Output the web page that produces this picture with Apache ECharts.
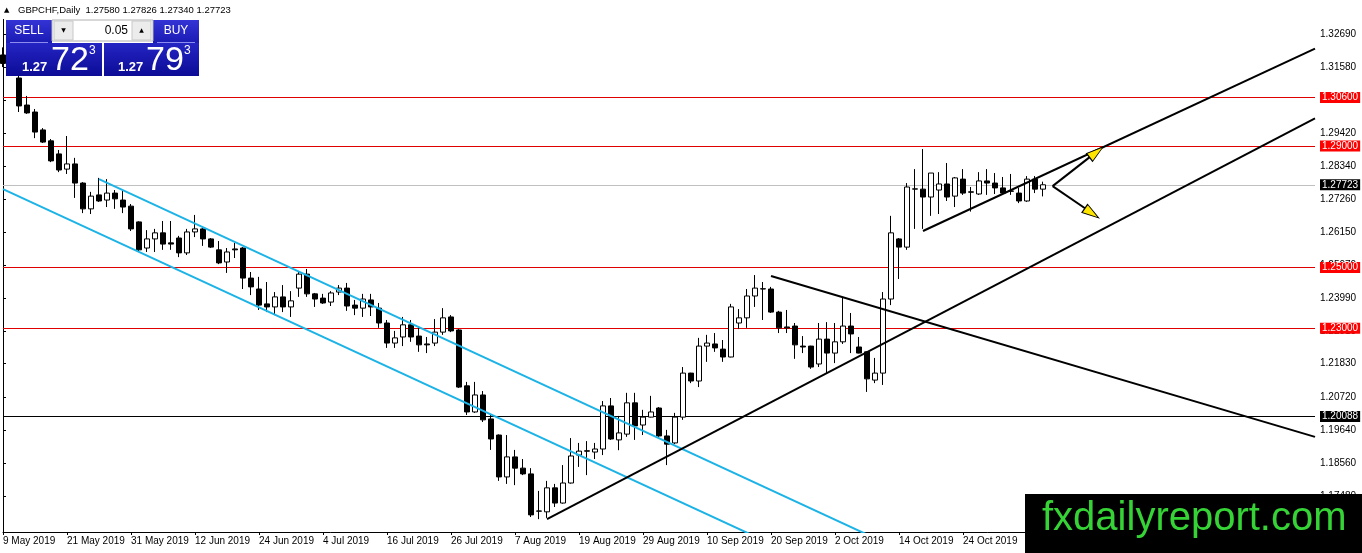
<!DOCTYPE html>
<html><head><meta charset="utf-8">
<script src="https://cdn.jsdelivr.net/npm/echarts@6/dist/echarts.min.js"></script>
<style>html,body{margin:0;padding:0;background:#fff}#c{width:1362px;height:553px}</style>
</head><body><div id="c"></div>
<script>
// ---- data (GBPCHF Daily) ----
const firstDay = [2019, 4, 9];   // 9 May 2019, weekday bars
const barCount = 131;
const opens = [1.3200,1.3170,1.3124,1.3035,1.3012,1.2953,1.2917,1.2874,1.2824,1.2841,
1.2778,1.2693,1.2739,1.2722,1.2745,1.2722,1.2702,1.2650,1.2564,1.2594,
1.2614,1.2581,1.2597,1.2548,1.2617,1.2627,1.2594,1.2558,1.2518,1.2561,
1.2564,1.2465,1.2429,1.2380,1.2370,1.2403,1.2370,1.2432,1.2478,1.2413,
1.2399,1.2386,1.2419,1.2432,1.2376,1.2366,1.2393,1.2366,1.2317,1.2251,
1.2271,1.2311,1.2274,1.2248,1.2251,1.2287,1.2337,1.2294,1.2110,1.2024,
1.2080,1.2001,1.1948,1.1810,1.1876,1.1839,1.1820,1.1697,1.1695,1.1774,
1.1724,1.1790,1.1882,1.1896,1.1892,1.1902,1.2044,1.1932,1.1951,1.2054,
1.1981,1.2007,1.2037,1.1945,1.1922,1.2007,1.2152,1.2126,1.2241,1.2248,
1.2231,1.2205,1.2317,1.2334,1.2406,1.2429,1.2429,1.2353,1.2304,1.2307,
1.2241,1.2241,1.2182,1.2264,1.2218,1.2255,1.2307,1.2238,1.2222,1.2129,
1.2152,1.2396,1.2594,1.2567,1.2758,1.2758,1.2732,1.2755,1.2775,1.2735,
1.2791,1.2749,1.2742,1.2785,1.2778,1.2762,1.2752,1.2745,1.2719,1.2791,
1.27580];
const highs = [1.3225,1.3190,1.3144,1.3065,1.3022,1.2959,1.2923,1.2887,1.2933,1.2861,
1.2781,1.2749,1.2795,1.2791,1.2755,1.2752,1.2709,1.2652,1.2623,1.2627,
1.2653,1.2653,1.2604,1.2627,1.2673,1.2633,1.2597,1.2587,1.2564,1.2581,
1.2567,1.2485,1.2469,1.2452,1.2419,1.2442,1.2422,1.2485,1.2495,1.2416,
1.2413,1.2422,1.2442,1.2449,1.2393,1.2413,1.2413,1.2383,1.2327,1.2291,
1.2337,1.2327,1.2301,1.2271,1.2330,1.2366,1.2343,1.2297,1.2123,1.2123,
1.2093,1.2017,1.1950,1.1948,1.1899,1.1869,1.1839,1.1764,1.1797,1.1787,
1.1849,1.1938,1.1922,1.1928,1.1922,1.2060,1.2070,1.2011,1.2087,1.2087,
1.2031,1.2077,1.2040,1.1965,1.2021,1.2172,1.2153,1.2268,1.2278,1.2284,
1.2261,1.2380,1.2363,1.2429,1.2475,1.2452,1.2436,1.2357,1.2360,1.2317,
1.2274,1.2242,1.2317,1.2320,1.2317,1.2403,1.2350,1.2271,1.2223,1.2202,
1.2419,1.2670,1.2597,1.2778,1.2824,1.2890,1.2811,1.2814,1.2844,1.2798,
1.2824,1.2765,1.2814,1.2824,1.2811,1.2798,1.2808,1.2762,1.2801,1.2801,
1.27826];
const lows = [1.3160,1.3138,1.3012,1.3006,1.2926,1.2910,1.2847,1.2814,1.2808,1.2729,
1.2679,1.2676,1.2716,1.2699,1.2693,1.2679,1.2620,1.2551,1.2551,1.2551,
1.2558,1.2558,1.2534,1.2541,1.2600,1.2571,1.2564,1.2511,1.2482,1.2531,
1.2429,1.2409,1.2360,1.2353,1.2343,1.2353,1.2337,1.2403,1.2403,1.2370,
1.2380,1.2373,1.2409,1.2357,1.2343,1.2337,1.2340,1.2301,1.2235,1.2235,
1.2241,1.2255,1.2222,1.2218,1.2241,1.2278,1.2287,1.2103,1.2014,1.2021,
1.1991,1.1899,1.1797,1.1787,1.1783,1.1816,1.1678,1.1671,1.1675,1.1711,
1.1722,1.1788,1.1843,1.1816,1.1869,1.1882,1.1932,1.1898,1.1942,1.1932,
1.1948,1.2006,1.1942,1.1849,1.1918,1.1998,1.2119,1.2106,1.2189,1.2222,
1.2189,1.2204,1.2297,1.2301,1.2370,1.2327,1.2350,1.2284,1.2284,1.2199,
1.2218,1.2166,1.2172,1.2152,1.2185,1.2248,1.2218,1.2217,1.2090,1.2119,
1.2113,1.2376,1.2462,1.2558,1.2627,1.2627,1.2670,1.2676,1.2719,1.2699,
1.2739,1.2684,1.2739,1.2739,1.2742,1.2745,1.2739,1.2712,1.2716,1.2745,
1.27340];
const closes = [1.3172,1.3150,1.3032,1.3009,1.2946,1.2913,1.2851,1.2821,1.2841,1.2778,
1.2693,1.2735,1.2719,1.2745,1.2726,1.2699,1.2627,1.2558,1.2594,1.2614,
1.2577,1.2577,1.2548,1.2617,1.2627,1.2594,1.2567,1.2515,1.2551,1.2558,
1.2465,1.2436,1.2376,1.2370,1.2403,1.2370,1.2390,1.2478,1.2413,1.2396,
1.2383,1.2416,1.2432,1.2373,1.2366,1.2396,1.2370,1.2317,1.2251,1.2268,
1.2311,1.2271,1.2245,1.2245,1.2287,1.2334,1.2291,1.2106,1.2024,1.2080,
1.1998,1.1935,1.1810,1.1876,1.1839,1.1820,1.1685,1.1698,1.1774,1.1724,
1.1790,1.1879,1.1895,1.1895,1.1902,1.2044,1.1935,1.1955,1.2054,1.1978,
1.2007,1.2024,1.1945,1.1918,1.2007,1.2152,1.2126,1.2241,1.2251,1.2235,
1.2205,1.2370,1.2334,1.2406,1.2432,1.2430,1.2353,1.2301,1.2301,1.2245,
1.2238,1.2172,1.2264,1.2218,1.2255,1.2307,1.2281,1.2218,1.2133,1.2152,
1.2396,1.2614,1.2567,1.2765,1.2759,1.2732,1.2811,1.2775,1.2732,1.2795,
1.2745,1.2748,1.2785,1.2778,1.2762,1.2745,1.2751,1.2719,1.2791,1.2758,
1.27723];

const priceTicks = [1.32690,1.31580,1.30500,1.29420,1.28340,1.27260,1.26150,1.25070,
  1.23990,1.22910,1.21830,1.20720,1.19640,1.18560,1.17480];
const redLevels = [1.30600, 1.29000, 1.25000, 1.23000];
const blackLevel = 1.20088;
const lastPrice = 1.27723;

// trendlines as [barIndex, price] anchor pairs
const cyanUpper = [[12, 1.2791], [110, 1.1596]];
const cyanLower = [[0, 1.2758], [95, 1.1602]];
const blackRise = [[68, 1.1671], [164, 1.2991]];
const blackTop = [[115, 1.2620], [164, 1.3221]];
const blackFall = [[96, 1.2472], [164, 1.1942]];
const arrowUp = [[131.2, 1.2768], [135.8, 1.28625]];
const arrowDown = [[131.2, 1.2768], [135.25, 1.26949]];
const arrowHeads = [[136.66, 1.28797, 37.8], [136.1, 1.26787, -34.6]];

// ---- build ----
const months = ['Jan','Feb','Mar','Apr','May','Jun','Jul','Aug','Sep','Oct','Nov','Dec'];
const dates = [];
(function(){
  const d = new Date(Date.UTC(firstDay[0], firstDay[1], firstDay[2]));
  while (dates.length < barCount) {
    const wd = d.getUTCDay();
    if (wd !== 0 && wd !== 6) dates.push(d.getUTCDate() + ' ' + months[d.getUTCMonth()] + ' ' + d.getUTCFullYear());
    d.setUTCDate(d.getUTCDate() + 1);
  }
})();
const candleData = opens.map((o, i) => [i, o, closes[i], lows[i], highs[i]]);

const FONT = '"Liberation Sans", Arial, sans-serif';
const chart = echarts.init(document.getElementById('c'), null, {renderer: 'canvas'});

function lvl(v, lineColor, bg) {
  return {
    yAxis: v,
    lineStyle: {color: lineColor, width: 1, type: 'solid'},
    label: {show: true, position: 'end', distance: 5, formatter: () => v.toFixed(5),
      color: '#fff', backgroundColor: bg, padding: [1, 2, 0, 2], fontSize: 10, fontFamily: FONT}
  };
}
function trend(d, color, w) {
  return {type: 'line', data: d, symbol: 'none', clip: true, silent: true, z: 4,
    lineStyle: {color: color, width: w}, animation: false};
}

const g = [];
function rect(x, y, w, h, fill, stroke) { g.push({type: 'rect', z: 100, shape: {x, y, width: w, height: h}, style: {fill, stroke: stroke || null, lineWidth: stroke ? 1 : 0}}); }
function text(x, y, t, font, fill, align, va) { g.push({type: 'text', z: 101, x, y, style: {text: t, font, fill, textAlign: align || 'left', textVerticalAlign: va || 'middle'}}); }
const btnGrad = {type: 'linear', x: 0, y: 0, x2: 0, y2: 1, colorStops: [{offset: 0, color: '#3434d6'}, {offset: 1, color: '#1a1ab4'}]};
const boxGrad = {type: 'linear', x: 0, y: 0, x2: 0, y2: 1, colorStops: [{offset: 0, color: '#2424c4'}, {offset: 1, color: '#0c0c96'}]};
rect(0, 0, 250, 19, '#fff');
text(4, 10, '▲', '7px "DejaVu Sans"', '#000');
text(18, 10, 'GBPCHF,Daily  1.27580 1.27826 1.27340 1.27723', '9.5px ' + FONT, '#000');
rect(6, 20, 46, 23, btnGrad);
rect(153, 20, 46, 23, btnGrad);
rect(52, 20, 101, 21, '#fff', '#b0b0b0');
rect(54, 21, 19, 19, '#ececec', '#c8c8c8');
rect(132, 21, 19, 19, '#ececec', '#c8c8c8');
text(63.5, 30.5, '▼', '6px "DejaVu Sans"', '#000', 'center');
text(141.5, 30.5, '▲', '6px "DejaVu Sans"', '#000', 'center');
text(128, 31, '0.05', '12px ' + FONT, '#000', 'right');
text(29, 31, 'SELL', '12px ' + FONT, '#fff', 'center');
text(176, 31, 'BUY', '12px ' + FONT, '#fff', 'center');
rect(6, 43, 96, 33, boxGrad);
rect(104, 43, 95, 33, boxGrad);
g.push({type: 'line', z: 101, shape: {x1: 10, y1: 42.5, x2: 48, y2: 42.5}, style: {stroke: '#8c8cf0', lineWidth: 1}});
g.push({type: 'line', z: 101, shape: {x1: 157, y1: 42.5, x2: 195, y2: 42.5}, style: {stroke: '#8c8cf0', lineWidth: 1}});
text(22, 67, '1.27', 'bold 13px ' + FONT, '#fff');
text(51, 61, '72', '34px ' + FONT, '#fff');
text(89, 51, '3', '12px ' + FONT, '#fff');
text(118, 67, '1.27', 'bold 13px ' + FONT, '#fff');
text(146, 61, '79', '34px ' + FONT, '#fff');
text(184, 51, '3', '12px ' + FONT, '#fff');
rect(1025, 494, 337, 59, '#000');
text(1042, 519, 'fxdailyreport.com', '40px ' + FONT, '#36d336');

chart.setOption({
  animation: false,
  backgroundColor: '#fff',
  grid: {left: 3, right: 47, top: 0, bottom: 21, containLabel: false},
  xAxis: {
    type: 'value', min: 0, max: 164, interval: 8,
    axisLine: {show: true, lineStyle: {color: '#000', width: 1}},
    axisTick: {show: true, length: 3, lineStyle: {color: '#000'}},
    splitLine: {show: false},
    axisLabel: {show: true, align: 'left', margin: 4, color: '#000', fontSize: 10, fontFamily: FONT,
      showMinLabel: true, showMaxLabel: false,
      formatter: v => (Number.isInteger(v) && dates[v]) ? dates[v] : ''}
  },
  yAxis: [{
    type: 'value', position: 'right', min: 1.16286, max: 1.3381, scale: true,
    axisLine: {show: true, lineStyle: {color: '#000', width: 1}},
    axisTick: {show: true, length: 3, customValues: priceTicks, lineStyle: {color: '#000'}},
    splitLine: {show: false},
    axisLabel: {show: true, margin: 5, color: '#000', fontSize: 10, fontFamily: FONT,
      customValues: priceTicks, formatter: v => v.toFixed(5)}
  }, {
    type: 'value', position: 'left', min: 1.16286, max: 1.3381,
    axisLine: {show: true, lineStyle: {color: '#000', width: 1}},
    axisTick: {show: false}, axisLabel: {show: false}, splitLine: {show: false}
  }],
  graphic: g,
  series: [
    {
      type: 'candlestick', data: candleData, barWidth: 5, z: 3,
      itemStyle: {color: '#fff', color0: '#000', borderColor: '#000', borderColor0: '#000', borderColorDoji: '#000', borderWidth: 1},
      markLine: {
        silent: true, symbol: 'none', animation: false, z: 2, precision: 5,
        data: [
          ...redLevels.map(v => lvl(v, '#e00000', '#ff0000')),
          lvl(blackLevel, '#000', '#000'),
          lvl(lastPrice, '#c0c0c0', '#000')
        ]
      }
    },
    trend(cyanUpper, '#1cb3e6', 2),
    trend(cyanLower, '#1cb3e6', 2),
    trend(blackRise, '#000', 2),
    trend(blackTop, '#000', 2),
    trend(blackFall, '#000', 2),
    trend(arrowUp, '#000', 2),
    trend(arrowDown, '#000', 2),
    {
      type: 'scatter', z: 6, silent: true,
      data: arrowHeads.map(a => ({value: [a[0], a[1]], symbolRotate: a[2]})),
      symbol: 'path://M0,0L17,5L0,10Z', symbolSize: [17, 10],
      itemStyle: {color: '#ffe600', borderColor: '#000', borderWidth: 1, opacity: 1}
    }
  ]
});
</script>
</body></html>
